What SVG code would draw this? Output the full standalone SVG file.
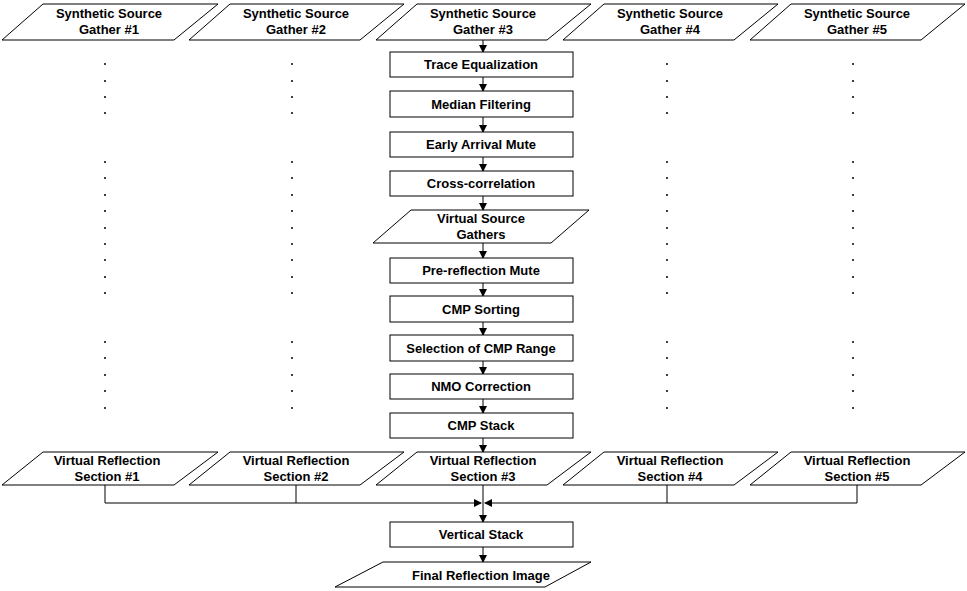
<svg xmlns="http://www.w3.org/2000/svg" width="967" height="591" viewBox="0 0 967 591">
<defs>
<style>
.s{fill:#fff;stroke:#000;stroke-width:1}
.t{font-family:"Liberation Sans",Arial,sans-serif;font-weight:bold;font-size:13px;text-anchor:middle}
.c{fill:none;stroke:#000;stroke-width:1}
.d{fill:#000}
</style>
<marker id="a" markerWidth="8" markerHeight="8" refX="7" refY="4" orient="auto" markerUnits="userSpaceOnUse"><path d="M0,0 L8,4 L0,8 z"/></marker>
</defs>
<rect width="967" height="591" fill="#fff"/>
<g id="connectors">
<path class="c" marker-end="url(#a)" d="M483,40 V52"/>
<path class="c" marker-end="url(#a)" d="M483,77 V91"/>
<path class="c" marker-end="url(#a)" d="M483,117 V132"/>
<path class="c" marker-end="url(#a)" d="M483,157 V171"/>
<path class="c" marker-end="url(#a)" d="M483,196 V210"/>
<path class="c" marker-end="url(#a)" d="M483,243 V258"/>
<path class="c" marker-end="url(#a)" d="M483,283 V296"/>
<path class="c" marker-end="url(#a)" d="M483,322 V335"/>
<path class="c" marker-end="url(#a)" d="M483,361 V374"/>
<path class="c" marker-end="url(#a)" d="M483,399 V413"/>
<path class="c" marker-end="url(#a)" d="M483,438 V452"/>
<path class="c" marker-end="url(#a)" d="M105,485 V503 H481"/>
<path class="c" d="M296,485 V503"/>
<path class="c" marker-end="url(#a)" d="M857,485 V503 H485"/>
<path class="c" d="M667,485 V503"/>
<path class="c" marker-end="url(#a)" d="M483,485 V522"/>
<path class="c" marker-end="url(#a)" d="M483,547 V562"/>
</g>
<g id="dots" class="d">
<g id="dc1">
<circle cx="105" cy="64" r="1"/><circle cx="105" cy="81" r="1"/><circle cx="105" cy="97" r="1"/><circle cx="105" cy="113" r="1"/>
<circle cx="105" cy="162" r="1"/><circle cx="105" cy="178" r="1"/><circle cx="105" cy="195" r="1"/><circle cx="105" cy="211" r="1"/><circle cx="105" cy="228" r="1"/><circle cx="105" cy="244" r="1"/><circle cx="105" cy="260" r="1"/><circle cx="105" cy="277" r="1"/><circle cx="105" cy="293" r="1"/>
<circle cx="105" cy="342" r="1"/><circle cx="105" cy="358" r="1"/><circle cx="105" cy="375" r="1"/><circle cx="105" cy="391" r="1"/><circle cx="105" cy="408" r="1"/>
</g>
<use href="#dc1" x="187"/>
<use href="#dc1" x="562"/>
<use href="#dc1" x="748"/>
</g>
<g id="src1"><polygon class="s" points="43,4 218,4 174,40 2,40"/><text class="t" x="109" y="18">Synthetic Source</text><text class="t" x="109" y="34">Gather #1</text></g>
<g id="src2"><polygon class="s" points="230,4 404,4 360,40 189,40"/><text class="t" x="296" y="18">Synthetic Source</text><text class="t" x="296" y="34">Gather #2</text></g>
<g id="src3"><polygon class="s" points="417,4 591,4 547,40 376,40"/><text class="t" x="483" y="18">Synthetic Source</text><text class="t" x="483" y="34">Gather #3</text></g>
<g id="src4"><polygon class="s" points="604,4 778,4 734,40 563,40"/><text class="t" x="670" y="18">Synthetic Source</text><text class="t" x="670" y="34">Gather #4</text></g>
<g id="src5"><polygon class="s" points="791,4 965,4 921,40 750,40"/><text class="t" x="857" y="18">Synthetic Source</text><text class="t" x="857" y="34">Gather #5</text></g>
<g id="te"><rect class="s" x="390" y="52" width="183" height="25"/><text class="t" x="481" y="69">Trace Equalization</text></g>
<g id="mf"><rect class="s" x="390" y="91" width="183" height="26"/><text class="t" x="481" y="109">Median Filtering</text></g>
<g id="eam"><rect class="s" x="390" y="132" width="183" height="25"/><text class="t" x="481" y="149">Early Arrival Mute</text></g>
<g id="cc"><rect class="s" x="390" y="171" width="183" height="25"/><text class="t" x="481" y="188">Cross-correlation</text></g>
<g id="vsg"><polygon class="s" points="411,210 589,210 551,243 373,243"/><text class="t" x="481" y="223">Virtual Source</text><text class="t" x="481" y="239">Gathers</text></g>
<g id="prm"><rect class="s" x="390" y="258" width="183" height="25"/><text class="t" x="481" y="275">Pre-reflection Mute</text></g>
<g id="cmps"><rect class="s" x="390" y="296" width="183" height="26"/><text class="t" x="481" y="314">CMP Sorting</text></g>
<g id="sel"><rect class="s" x="390" y="335" width="183" height="26"/><text class="t" x="481" y="353">Selection of CMP Range</text></g>
<g id="nmo"><rect class="s" x="390" y="374" width="183" height="25"/><text class="t" x="481" y="391">NMO Correction</text></g>
<g id="stk"><rect class="s" x="390" y="413" width="183" height="25"/><text class="t" x="481" y="430">CMP Stack</text></g>
<g id="vr1"><polygon class="s" points="43,452 218,452 174,485 2,485"/><text class="t" x="107" y="465">Virtual Reflection</text><text class="t" x="107" y="481">Section #1</text></g>
<g id="vr2"><polygon class="s" points="230,452 404,452 360,485 189,485"/><text class="t" x="296" y="465">Virtual Reflection</text><text class="t" x="296" y="481">Section #2</text></g>
<g id="vr3"><polygon class="s" points="417,452 591,452 547,485 376,485"/><text class="t" x="483" y="465">Virtual Reflection</text><text class="t" x="483" y="481">Section #3</text></g>
<g id="vr4"><polygon class="s" points="604,452 778,452 734,485 563,485"/><text class="t" x="670" y="465">Virtual Reflection</text><text class="t" x="670" y="481">Section #4</text></g>
<g id="vr5"><polygon class="s" points="791,452 965,452 921,485 750,485"/><text class="t" x="857" y="465">Virtual Reflection</text><text class="t" x="857" y="481">Section #5</text></g>
<g id="vs"><rect class="s" x="390" y="522" width="183" height="25"/><text class="t" x="481" y="539">Vertical Stack</text></g>
<g id="fri"><polygon class="s" points="383,562 591,562 545,587 335,587"/><text class="t" x="481" y="580">Final Reflection Image</text></g>
</svg>
